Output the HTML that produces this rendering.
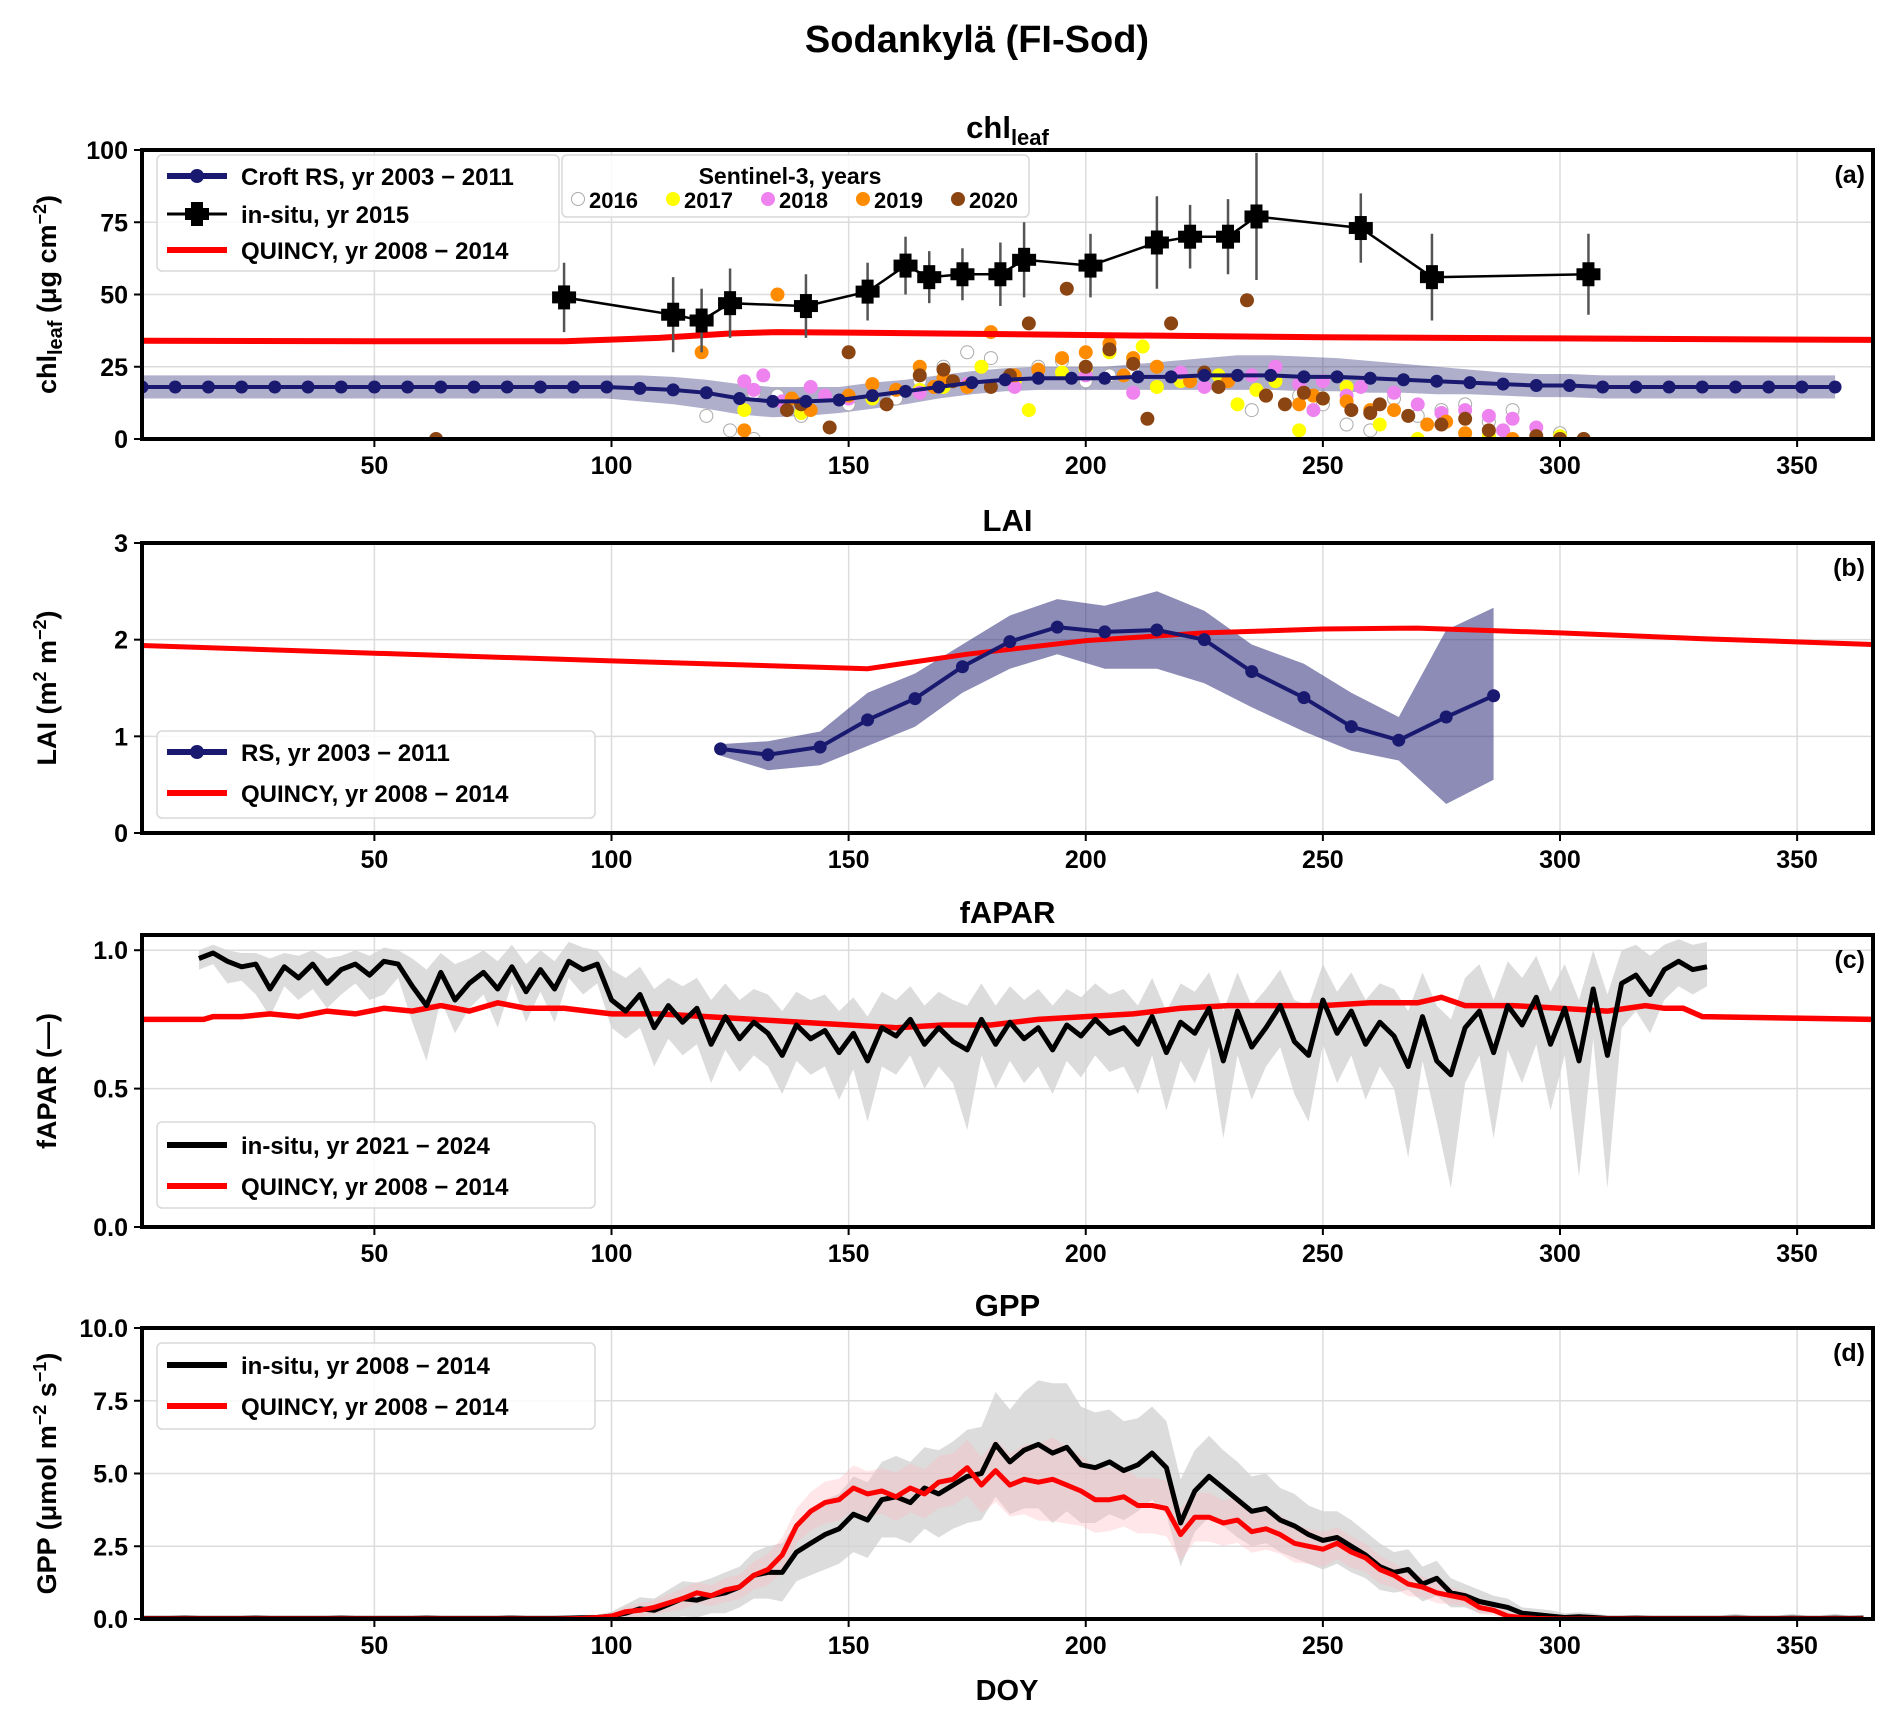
<!DOCTYPE html>
<html><head><meta charset="utf-8"><style>
html,body{margin:0;padding:0;background:#fff}
svg{display:block;font-family:"Liberation Sans",sans-serif}
</style></head><body>
<svg id="fig" width="1892" height="1716" viewBox="0 0 1892 1716" xmlns="http://www.w3.org/2000/svg">
<text x="977" y="52" text-anchor="middle" font-size="38" font-weight="bold">Sodankylä (FI-Sod)</text>
</svg>
<script>
// ---------- data ----------
const chlRsDays=[1,8,15,22,29,36,43,50,57,64,71,78,85,92,99,106,113,120,127,134,141,148,155,162,169,176,183,190,197,204,211,218,225,232,239,246,253,260,267,274,281,288,295,302,309,316,323,330,337,344,351,358];
const chlRsVals=[18,18,18,18,18,18,18,18,18,18,18,18,18,18,18,17.5,17,16,14,13,13,13.5,15,16.5,18,19.5,20.5,21,21,21,21.5,21.5,22,22,22,21.5,21.5,21,20.5,20,19.5,19,18.5,18.5,18,18,18,18,18,18,18,18];
const chlRsLo=[14,14,14,14,14,14,14,14,14,14,14,14,14,14,14,13,12,10.5,8.5,7.5,8,9,10.5,12,14,15.5,16.5,17,17,17,17,17,17,17,17,16.5,16.5,16,16,15.5,15.5,15,14.5,14.5,14,14,14,14,14,14,14,14];
const chlRsHi=[22,22,22,22,22,22,22,22,22,22,22,22,22,22,22,22,21.5,20.5,19,18,18,18,19.5,20.5,22,23.5,24.5,25,25,25,26,27,28,29,29,28.5,28,27,26,25,24,23,22.5,22.5,22,22,22,22,22,22,22,22];
const insDays=[90,113,119,125,141,154,162,167,174,182,187,201,215,222,230,236,258,273,306];
const insVals=[49,43,41,47,46,51,60,56,57,57,62,60,68,70,70,77,73,56,57];
const insErr=[12,13,11,12,11,10,10,9,9,11,13,11,16,11,13,22,12,15,14];
const qChlDays=[1,50,90,110,125,135,150,200,250,300,366];
const qChlVals=[34,33.8,33.8,35,36.5,37,36.8,36,35.2,34.8,34.3];
const s2016=[[120,8],[125,3],[130,16],[135,15],[140,8],[150,12],[160,14],[170,25],[175,30],[180,28],[185,22],[190,25],[200,20],[210,24],[220,22],[235,10],[245,15],[255,5],[260,3],[270,8],[280,12],[290,10],[300,2],[305,0],[130,0],[165,20],[195,27],[205,22],[228,18],[250,12],[265,14],[275,10],[285,6]];
const s2017=[[128,10],[140,9],[155,14],[165,17],[178,25],[185,20],[188,10],[195,23],[205,30],[210,28],[212,32],[215,18],[228,22],[232,12],[240,20],[245,3],[255,18],[262,5],[270,0],[285,1],[300,1],[170,18],[200,24],[220,20],[236,17],[250,14]];
const s2018=[[128,20],[132,22],[136,13],[142,18],[150,14],[165,16],[175,19],[185,18],[200,22],[210,16],[220,23],[225,18],[235,22],[240,25],[245,19],[250,20],[255,15],[265,16],[270,12],[280,10],[285,8],[290,7],[295,4],[300,0],[130,17],[145,15],[230,20],[248,10],[258,18],[275,9],[288,3]];
const s2019=[[119,30],[128,3],[135,50],[138,14],[142,10],[155,19],[160,17],[165,25],[170,21],[175,18],[180,37],[185,22],[195,28],[200,30],[205,33],[210,28],[215,25],[230,20],[238,15],[248,15],[255,13],[265,10],[272,5],[280,2],[290,0],[150,15],[168,18],[190,24],[208,22],[222,20],[245,12],[260,10],[276,6]];
const s2020=[[63,0],[137,10],[146,4],[150,30],[158,12],[165,22],[172,20],[180,18],[188,40],[196,52],[205,31],[210,26],[213,7],[218,40],[225,23],[234,48],[238,15],[242,12],[250,14],[256,10],[262,12],[268,8],[275,5],[280,7],[295,1],[300,0],[305,0],[140,12],[170,24],[184,22],[200,25],[228,18],[246,16],[260,9],[285,3]];

const laiDays=[123,133,144,154,164,174,184,194,204,215,225,235,246,256,266,276,286];
const laiVals=[0.87,0.81,0.89,1.17,1.39,1.72,1.98,2.13,2.08,2.10,2.00,1.67,1.40,1.10,0.96,1.20,1.42];
const laiLo=[0.80,0.65,0.70,0.90,1.10,1.45,1.70,1.85,1.70,1.70,1.55,1.30,1.05,0.85,0.75,0.30,0.55];
const laiHi=[0.92,0.95,1.05,1.45,1.65,1.95,2.25,2.42,2.35,2.50,2.30,1.95,1.75,1.45,1.20,2.10,2.33];
const qLaiDays=[1,50,100,154,175,200,225,250,270,300,330,366];
const qLaiVals=[1.94,1.86,1.78,1.70,1.85,1.99,2.07,2.11,2.12,2.07,2.01,1.95];

const fapDays0=13;
const fapVals=[0.97,0.99,0.96,0.94,0.95,0.86,0.94,0.90,0.95,0.88,0.93,0.95,0.91,0.96,0.95,0.87,0.80,0.92,0.82,0.88,0.92,0.86,0.94,0.85,0.93,0.86,0.96,0.93,0.95,0.82,0.78,0.84,0.72,0.80,0.74,0.79,0.66,0.76,0.68,0.74,0.70,0.62,0.73,0.68,0.71,0.63,0.70,0.60,0.72,0.69,0.75,0.66,0.72,0.67,0.64,0.75,0.66,0.74,0.68,0.72,0.64,0.73,0.69,0.75,0.70,0.72,0.66,0.76,0.63,0.74,0.70,0.79,0.60,0.78,0.65,0.72,0.80,0.67,0.62,0.82,0.70,0.78,0.66,0.74,0.69,0.58,0.76,0.60,0.55,0.72,0.78,0.63,0.80,0.73,0.83,0.66,0.79,0.60,0.86,0.62,0.88,0.91,0.84,0.93,0.96,0.93,0.94];
const fapLo=[0.93,0.95,0.88,0.89,0.84,0.76,0.87,0.82,0.86,0.79,0.84,0.88,0.82,0.84,0.90,0.74,0.60,0.82,0.70,0.79,0.84,0.72,0.88,0.74,0.85,0.74,0.90,0.84,0.88,0.72,0.68,0.72,0.58,0.68,0.62,0.66,0.52,0.64,0.56,0.62,0.58,0.48,0.60,0.55,0.58,0.46,0.57,0.38,0.58,0.55,0.62,0.50,0.58,0.52,0.35,0.62,0.50,0.60,0.52,0.58,0.48,0.60,0.54,0.62,0.56,0.58,0.48,0.62,0.42,0.60,0.52,0.65,0.32,0.62,0.46,0.58,0.65,0.48,0.38,0.66,0.52,0.62,0.46,0.58,0.50,0.25,0.60,0.38,0.14,0.52,0.62,0.32,0.64,0.52,0.66,0.42,0.62,0.18,0.68,0.14,0.72,0.78,0.70,0.82,0.87,0.84,0.87];
const fapHi=[1.00,1.02,1.00,0.99,0.99,0.97,0.99,0.98,1.00,0.97,0.98,1.00,0.98,1.01,1.00,0.97,0.93,0.99,0.95,0.97,1.00,0.96,1.02,0.95,1.00,0.96,1.03,1.01,1.00,0.93,0.90,0.94,0.86,0.90,0.87,0.90,0.82,0.88,0.82,0.86,0.84,0.78,0.85,0.82,0.84,0.78,0.83,0.76,0.85,0.82,0.87,0.80,0.85,0.82,0.80,0.88,0.80,0.87,0.82,0.86,0.80,0.86,0.83,0.88,0.84,0.86,0.80,0.90,0.78,0.88,0.85,0.92,0.78,0.92,0.80,0.86,0.93,0.82,0.80,0.95,0.85,0.92,0.82,0.88,0.86,0.78,0.92,0.80,0.75,0.90,0.95,0.82,0.96,0.90,0.98,0.85,0.95,0.82,1.00,0.84,1.00,1.02,0.98,1.02,1.04,1.02,1.03];
const qFapDays=[1,14,16,22,28,34,40,46,52,58,64,70,76,82,90,100,110,120,130,140,150,160,170,180,190,200,210,220,230,240,250,260,270,275,280,290,300,310,318,322,326,330,366];
const qFapVals=[0.75,0.75,0.76,0.76,0.77,0.76,0.78,0.77,0.79,0.78,0.80,0.78,0.81,0.79,0.79,0.77,0.77,0.76,0.75,0.74,0.73,0.72,0.73,0.73,0.75,0.76,0.77,0.79,0.80,0.80,0.80,0.81,0.81,0.83,0.80,0.80,0.79,0.78,0.80,0.79,0.79,0.76,0.75];

const gppDay0=1;
const gppIns=[0.02,0.02,0.02,0.03,0.02,0.02,0.02,0.02,0.03,0.02,0.02,0.02,0.02,0.02,0.03,0.02,0.02,0.02,0.02,0.02,0.03,0.02,0.02,0.02,0.02,0.02,0.03,0.02,0.02,0.02,0.03,0.04,
0.05,0.1,0.2,0.35,0.3,0.5,0.7,0.65,0.8,0.9,1.1,1.5,1.6,1.6,2.3,2.6,2.9,3.1,3.6,3.4,4.1,4.2,4.0,4.5,4.3,4.6,4.9,5.0,6.0,5.4,5.8,6.0,5.7,5.9,5.3,5.2,5.4,5.1,5.3,5.7,5.2,3.3,4.4,4.9,4.5,4.1,3.7,3.8,3.4,3.2,2.9,2.7,2.8,2.5,2.2,1.8,1.6,1.7,1.2,1.4,0.9,0.8,0.6,0.5,0.4,0.2,0.15,0.1,0.05,0.08,0.05,0.02,
0.02,0.03,0.02,0.02,0.02,0.02,0.02,0.02,0.03,0.02,0.02,0.02,0.03,0.02,0.02,0.03,0.02,0.03];
const gppQ=[0,0,0,0,0,0,0,0,0,0,0,0,0,0,0,0,0,0,0,0,0,0,0,0,0,0,0,0,0,0,0.01,0.02,
0.05,0.1,0.25,0.3,0.4,0.55,0.7,0.9,0.8,1.0,1.1,1.5,1.7,2.2,3.2,3.7,4.0,4.1,4.5,4.3,4.4,4.2,4.5,4.3,4.7,4.8,5.2,4.6,5.1,4.6,4.8,4.7,4.8,4.6,4.4,4.1,4.1,4.2,3.9,3.9,3.8,2.9,3.5,3.5,3.3,3.4,3.0,3.1,2.9,2.6,2.5,2.4,2.6,2.3,2.1,1.7,1.5,1.2,1.1,0.9,0.8,0.7,0.4,0.3,0.1,0.05,0.02,0.01,0,0,0,0,
0,0,0,0,0,0,0,0,0,0,0,0,0,0,0,0,0,0];
const gppInsSpread=[0.1,0.1,0.1,0.1,0.1,0.1,0.1,0.1,0.1,0.1,0.1,0.1,0.1,0.1,0.1,0.1,0.1,0.1,0.1,0.1,0.1,0.1,0.1,0.1,0.1,0.1,0.1,0.1,0.1,0.1,0.1,0.1,
0.1,0.15,0.3,0.4,0.4,0.5,0.6,0.6,0.6,0.7,0.7,0.8,0.9,1.0,1.0,1.1,1.2,1.2,1.3,1.3,1.3,1.4,1.4,1.4,1.5,1.5,1.6,1.6,1.8,1.8,2.0,2.2,2.4,2.2,2.0,1.9,1.8,1.7,1.6,1.6,1.6,1.5,1.4,1.4,1.3,1.3,1.2,1.2,1.1,1.1,1.0,1.0,0.9,0.9,0.8,0.8,0.7,0.7,0.6,0.6,0.5,0.4,0.4,0.3,0.3,0.2,0.2,0.2,0.15,0.15,0.15,0.1,
0.1,0.1,0.1,0.1,0.1,0.1,0.1,0.1,0.15,0.1,0.1,0.1,0.15,0.1,0.1,0.15,0.1,0.1];

// ---------- helpers ----------
const NS='http://www.w3.org/2000/svg';
const svg=document.getElementById('fig');
const X0=142,X1=1873,XMIN=1,XMAX=366;
function xs(d){return X0+(d-XMIN)/(XMAX-XMIN)*(X1-X0);}
function mk(tag,attrs,parent){const e=document.createElementNS(NS,tag);for(const k in attrs)e.setAttribute(k,attrs[k]);(parent||svg).appendChild(e);return e;}
function pathOf(xsArr,ysArr){let s='';for(let i=0;i<xsArr.length;i++)s+=(i?'L':'M')+xsArr[i].toFixed(1)+','+ysArr[i].toFixed(1);return s;}
function bandOf(xsArr,lo,hi){let s='';for(let i=0;i<xsArr.length;i++)s+=(i?'L':'M')+xsArr[i].toFixed(1)+','+hi[i].toFixed(1);for(let i=xsArr.length-1;i>=0;i--)s+='L'+xsArr[i].toFixed(1)+','+lo[i].toFixed(1);return s+'Z';}

function makeAxes(name,top,bot,ymin,ymax,yticks,ylabels,title,ylabelHtml,letter){
  const g=mk('g',{});
  
  
  const ys=v=>bot-(v-ymin)/(ymax-ymin)*(bot-top);
  [50,100,150,200,250,300,350].forEach(t=>{
    const l=mk('line',{x1:xs(t),x2:xs(t),y1:top,y2:bot,stroke:'#dcdcdc','stroke-width':1.5},g);
    
    
    mk('line',{x1:xs(t),x2:xs(t),y1:bot,y2:bot+8,stroke:'#000','stroke-width':2},g);
    const tx=mk('text',{x:xs(t),y:bot+35,'text-anchor':'middle','font-size':25,'font-weight':'bold'},g);
    tx.textContent=t;
    
    
  });
  yticks.forEach((t,i)=>{
    if(t>ymin&&t<ymax){const l=mk('line',{x1:X0,x2:X1,y1:ys(t),y2:ys(t),stroke:'#dcdcdc','stroke-width':1.5},g);
    
    }
    mk('line',{x1:X0-8,x2:X0,y1:ys(t),y2:ys(t),stroke:'#000','stroke-width':2},g);
    const tx=mk('text',{x:X0-14,y:ys(t)+9,'text-anchor':'end','font-size':25,'font-weight':'bold'},g);
    tx.textContent=ylabels[i];
    
    
  });
  const tt=mk('text',{x:(X0+X1)/2,y:top-12,'text-anchor':'middle','font-size':31,'font-weight':'bold'},g);
  tt.innerHTML=title;
  
  
  const yl=mk('text',{x:0,y:0,'text-anchor':'middle','font-size':27,'font-weight':'bold',transform:`translate(56,${(top+bot)/2}) rotate(-90)`},g);
  yl.innerHTML=ylabelHtml;
  
  
  const lt=mk('text',{x:X1-8,y:top+33,'text-anchor':'end','font-size':25,'font-weight':'bold'},g);
  lt.textContent=letter;
  
  
  const plot=mk('g',{'clip-path':`url(#clip-${name})`});
  
  
  const cp=mk('clipPath',{id:'clip-'+name});
  mk('rect',{x:X0,y:top,width:X1-X0,height:bot-top},cp);
  return {ys,plot,top,bot,g};
}
function frame(ax,name){
  const r=mk('rect',{x:X0,y:ax.top,width:X1-X0,height:ax.bot-ax.top,fill:'none',stroke:'#000','stroke-width':4});
  
  
}
function legendBox(x,y,w,h,name){
  const r=mk('rect',{x,y,width:w,height:h,rx:5,fill:'#fff','fill-opacity':0.85,stroke:'#d8d8d8','stroke-width':1.5});
  
  
}
function legendEntry(y,color,label,name,marker){
  const g=mk('g',{});
  
  
  mk('line',{x1:167,x2:227,y1:y,y2:y,stroke:color,'stroke-width':marker==='plus'?3:6},g);
  if(marker==='dot')mk('circle',{cx:197,cy:y,r:7,fill:color},g);
  if(marker==='plus'){mk('rect',{x:191,y:y-12,width:12,height:24,fill:'#000'},g);mk('rect',{x:185,y:y-6,width:24,height:12,fill:'#000'},g);}
  const t=mk('text',{x:241,y:y+9,'font-size':24,'font-weight':'bold'},g);
  t.textContent=label;
}

// ---------- panel a ----------
const A=makeAxes('chl',150,439,0,100,[0,25,50,75,100],['0','25','50','75','100'],'chl<tspan font-size="22" dy="7">leaf</tspan>','chl<tspan font-size="20" dy="6">leaf</tspan><tspan dy="-6"> (μg cm</tspan><tspan font-size="18" dy="-10">−2</tspan><tspan dy="10">)</tspan>','(a)');
let p=mk('path',{d:bandOf(chlRsDays.map(xs),chlRsLo.map(A.ys),chlRsHi.map(A.ys)),fill:'#1a1a6e','fill-opacity':0.35},A.plot);


const sYears=[[s2016,'#ffffff','#aaaaaa','2016'],[s2017,'#ffff00','#ffff00','2017'],[s2018,'#ee82ee','#ee82ee','2018'],[s2019,'#ff8c00','#ff8c00','2019'],[s2020,'#8b4513','#8b4513','2020']];
sYears.forEach(([pts,fc,sc,yr])=>{
  pts.forEach(([d,v])=>{
    const c=mk('circle',{cx:xs(d),cy:A.ys(v),r:6.5,fill:fc,stroke:sc,'stroke-width':1},A.plot);
    
    
  });
});
p=mk('path',{d:pathOf(qChlDays.map(xs),qChlVals.map(A.ys)),fill:'none',stroke:'#ff0000','stroke-width':6,'stroke-linejoin':'round'},A.plot);


p=mk('path',{d:pathOf(chlRsDays.map(xs),chlRsVals.map(A.ys)),fill:'none',stroke:'#191970','stroke-width':4},A.plot);


chlRsDays.forEach((d,i)=>{const c=mk('circle',{cx:xs(d),cy:A.ys(chlRsVals[i]),r:6.5,fill:'#191970'},A.plot);

});
p=mk('path',{d:pathOf(insDays.map(xs),insVals.map(A.ys)),fill:'none',stroke:'#000','stroke-width':2.5},A.plot);


insDays.forEach((d,i)=>{
  const g=mk('g',{},A.plot);
  
  
  mk('line',{x1:xs(d),x2:xs(d),y1:A.ys(insVals[i]-insErr[i]),y2:A.ys(insVals[i]+insErr[i]),stroke:'#555','stroke-width':2.5},g);
  mk('rect',{x:xs(d)-6,y:A.ys(insVals[i])-12,width:12,height:24,fill:'#000'},g);
  mk('rect',{x:xs(d)-12,y:A.ys(insVals[i])-6,width:24,height:12,fill:'#000'},g);
});
frame(A,'chl');
legendBox(157,155,402,116,'chl-legend');
legendEntry(176,'#191970','Croft RS,  yr 2003 − 2011','legend-croft-rs','dot');
legendEntry(214,'#000','in-situ,  yr 2015','legend-insitu-2015','plus');
legendEntry(250,'#ff0000','QUINCY,  yr 2008 − 2014','legend-quincy','line');
legendBox(562,155,467,62,'sentinel-legend');
let st=mk('text',{x:790,y:184,'text-anchor':'middle','font-size':23,'font-weight':'bold'});st.textContent='Sentinel-3,  years';


sYears.forEach(([pts,fc,sc,yr],i)=>{
  const g=mk('g',{});
  
  
  const cx=578+i*95;
  mk('circle',{cx,cy:199,r:6.5,fill:fc,stroke:sc,'stroke-width':1},g);
  const t=mk('text',{x:cx+11,y:208,'font-size':22,'font-weight':'bold'},g);t.textContent=yr;
});

// ---------- panel b ----------
const B=makeAxes('lai',543,833,0,3,[0,1,2,3],['0','1','2','3'],'LAI','LAI (m<tspan font-size="18" dy="-10">2</tspan><tspan dy="10"> m</tspan><tspan font-size="18" dy="-10">−2</tspan><tspan dy="10">)</tspan>','(b)');
p=mk('path',{d:bandOf(laiDays.map(xs),laiLo.map(B.ys),laiHi.map(B.ys)),fill:'#1a1a6e','fill-opacity':0.5},B.plot);


p=mk('path',{d:pathOf(qLaiDays.map(xs),qLaiVals.map(B.ys)),fill:'none',stroke:'#ff0000','stroke-width':5},B.plot);


p=mk('path',{d:pathOf(laiDays.map(xs),laiVals.map(B.ys)),fill:'none',stroke:'#191970','stroke-width':4},B.plot);


laiDays.forEach((d,i)=>{const c=mk('circle',{cx:xs(d),cy:B.ys(laiVals[i]),r:6.5,fill:'#191970'},B.plot);

});
frame(B,'lai');
legendBox(157,731,438,87,'lai-legend');
legendEntry(752,'#191970','RS,  yr 2003 − 2011','legend-lai-rs','dot');
legendEntry(793,'#ff0000','QUINCY,  yr 2008 − 2014','legend-lai-quincy','line');

// ---------- panel c ----------
const C=makeAxes('fapar',935,1227,0,1.055,[0,0.5,1.0],['0.0','0.5','1.0'],'fAPAR','fAPAR (—)','(c)');
const fapDays=fapVals.map((v,i)=>fapDays0+3*i);
p=mk('path',{d:bandOf(fapDays.map(xs),fapLo.map(C.ys),fapHi.map(C.ys)),fill:'#d3d3d3','fill-opacity':0.8},C.plot);


p=mk('path',{d:pathOf(qFapDays.map(xs),qFapVals.map(C.ys)),fill:'none',stroke:'#ff0000','stroke-width':5.5},C.plot);


p=mk('path',{d:pathOf(fapDays.map(xs),fapVals.map(C.ys)),fill:'none',stroke:'#000','stroke-width':5,'stroke-linejoin':'round'},C.plot);


frame(C,'fapar');
legendBox(157,1122,438,86,'fapar-legend');
legendEntry(1145,'#000','in-situ,  yr 2021 − 2024','legend-fapar-insitu','line');
legendEntry(1186,'#ff0000','QUINCY,  yr 2008 − 2014','legend-fapar-quincy','line');

// ---------- panel d ----------
const D=makeAxes('gpp',1328,1619,0,10,[0,2.5,5,7.5,10],['0.0','2.5','5.0','7.5','10.0'],'GPP','GPP (μmol m<tspan font-size="18" dy="-10">−2</tspan><tspan dy="10"> s</tspan><tspan font-size="18" dy="-10">−1</tspan><tspan dy="10">)</tspan>','(d)');
const n=Math.min(gppIns.length,gppQ.length,gppInsSpread.length);
const gDays=[],gI=[],gQ=[],gLo=[],gHi=[],qLo=[],qHi=[];
for(let i=0;i<n;i++){gDays.push(gppDay0+3*i);gI.push(gppIns[i]);gQ.push(gppQ[i]);
 gLo.push(Math.max(0,gppIns[i]-gppInsSpread[i]));gHi.push(gppIns[i]+gppInsSpread[i]);
 qLo.push(Math.max(0,gppQ[i]-gppInsSpread[i]*0.6));qHi.push(gppQ[i]+gppInsSpread[i]*0.6);}
p=mk('path',{d:bandOf(gDays.map(xs),gLo.map(D.ys),gHi.map(D.ys)),fill:'#d3d3d3','fill-opacity':0.8},D.plot);


p=mk('path',{d:bandOf(gDays.map(xs),qLo.map(D.ys),qHi.map(D.ys)),fill:'#ffb6c1','fill-opacity':0.35},D.plot);


p=mk('path',{d:pathOf(gDays.map(xs),gI.map(D.ys)),fill:'none',stroke:'#000','stroke-width':5,'stroke-linejoin':'round'},D.plot);


p=mk('path',{d:pathOf(gDays.map(xs),gQ.map(D.ys)),fill:'none',stroke:'#ff0000','stroke-width':5,'stroke-linejoin':'round'},D.plot);


frame(D,'gpp');
legendBox(157,1343,438,86,'gpp-legend');
legendEntry(1365,'#000','in-situ,  yr 2008 − 2014','legend-gpp-insitu','line');
legendEntry(1406,'#ff0000','QUINCY,  yr 2008 − 2014','legend-gpp-quincy','line');
const xl=mk('text',{x:1007,y:1700,'text-anchor':'middle','font-size':29,'font-weight':'bold'});
xl.textContent='DOY';


</script>
</body></html>
